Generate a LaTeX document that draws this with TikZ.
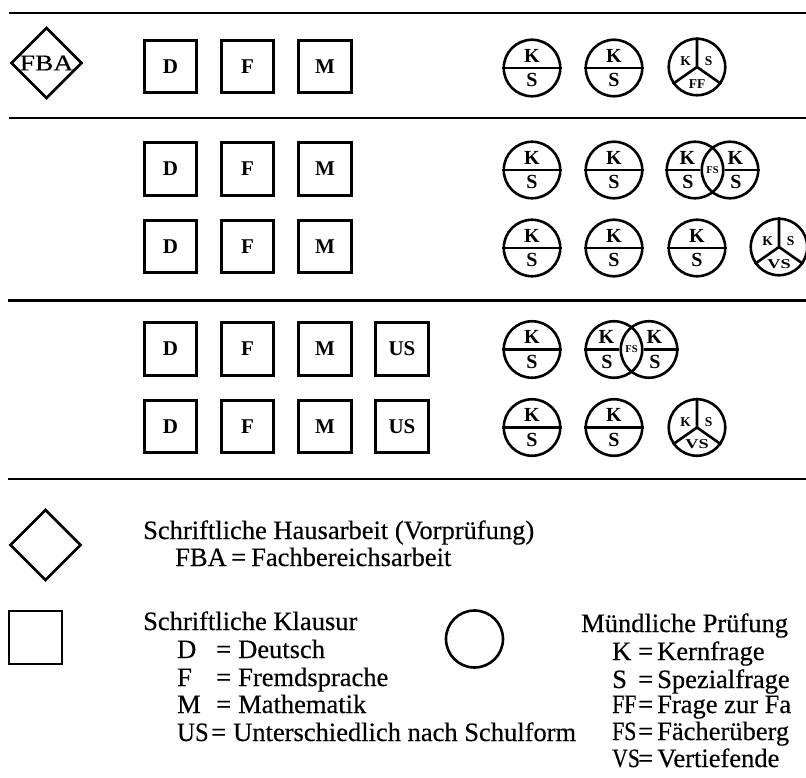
\documentclass[tikz,border=0pt]{standalone}
\usepackage{fontspec}
\setmainfont{Liberation Serif}
\newfontfamily\heavyserif[FakeBold=0.4]{Liberation Serif}
\usetikzlibrary{calc,shapes.geometric}
\begin{document}
\begin{tikzpicture}[x=1pt,y=-1pt,
  rule/.style={line width=2.3pt},
  box/.style={draw, line width=2.6pt, minimum size=52.5pt, inner sep=0pt, font=\fontsize{21}{21}\selectfont\bfseries},
  ring/.style={draw, circle, line width=2.6pt, minimum size=56.5pt, inner sep=0pt},
  dia/.style={draw, diamond, line width=2.6pt, minimum width=71pt, minimum height=71pt, inner sep=0pt},
  cut/.style={line width=2.6pt},
  big/.style={inner sep=0pt, font=\fontsize{20}{20}\selectfont\bfseries},
  small/.style={inner sep=0pt, font=\fontsize{13.5}{13.5}\selectfont\bfseries},
  tiny/.style={inner sep=0pt, font=\fontsize{10.5}{10.5}\selectfont\bfseries},
  fbafont/.style={inner sep=0pt, font=\fontsize{22.5}{22.5}\heavyserif},
  legend/.style={inner sep=0pt, anchor=base west, font=\fontsize{26.5}{26.5}\heavyserif}
]
\newcommand{\ksring}[2]{%
  \node[ring] (#1) at (#2) {};
  \draw[cut] (#1.west) -- (#1.east);
  \node[big] (#1k) at ($(#1)+(0,-12.5)$) {K};
  \node[big] (#1s) at ($(#1)+(0,12)$) {S};
}
\newcommand{\triring}[3]{%
  \node[ring] (#1) at (#2) {};
  \draw[cut] (#1.north) -- (#1.center) -- (#1.-145);
  \draw[cut] (#1.center) -- (#1.-35);
  \node[small] (#1k) at ($(#1)+(-11.5,-5.5)$) {K};
  \node[small] (#1s) at ($(#1)+(11.5,-5.5)$) {S};
  \node[small] (#1b) at ($(#1)+(0,17)$) {#3};
}
\newcommand{\vennring}[3]{%
  \node[ring] (#1) at (#3) {};
  \node[ring] (#2) at ($(#1)+(35,0)$) {};
  \draw[cut] (#1.west) -- (#2.west);
  \draw[cut] (#1.east) -- (#2.east);
  \node[big] (#1k) at ($(#1)+(-7.5,-12.5)$) {K};
  \node[big] (#1s) at ($(#1)+(-7,12)$) {S};
  \node[big] (#2k) at ($(#2)+(5.5,-12.5)$) {K};
  \node[big] (#2s) at ($(#2)+(6,12)$) {S};
  \node[tiny] (#1fs) at ($(#1)!0.5!(#2)$) {FS};
}
\newcommand{\narrowkey}[2][0.82]{\scalebox{#1}[1]{#2}}
\useasboundingbox (0,0) rectangle (806,778);
\clip (0,0) rectangle (806,778);

% rules
\coordinate (r1a) at (9,13);    \coordinate (r1b) at (806,13);
\coordinate (r2a) at (9,118);   \coordinate (r2b) at (806,118);
\coordinate (r3a) at (8,300.5); \coordinate (r3b) at (806,300.5);
\coordinate (r4a) at (8,479);   \coordinate (r4b) at (806,479);
\draw[rule] (r1a) -- (r1b);
\draw[rule] (r2a) -- (r2b);
\draw[rule] (r3a) -- (r3b);
\draw[rule] (r4a) -- (r4b);

% row 1
\node[dia] (fba) at (46.5,63) {};
\node[fbafont] (fbat) at (fba) {\scalebox{1.22}[1]{FBA}};
\node[box] (d1) at (170.5,66.5) {D};
\node[box] (f1) at (247.5,66.5) {F};
\node[box] (m1) at (325,66.5) {M};
\ksring{a1}{532,68}
\ksring{b1}{614,68}
\triring{t1}{697,67}{FF}

% row 2
\node[box] (d2) at (170.5,169) {D};
\node[box] (f2) at (247.5,169) {F};
\node[box] (m2) at (325,169) {M};
\ksring{a2}{532,170}
\ksring{b2}{614,170}
\vennring{vl2}{vr2}{695,170}

% row 3
\node[box] (d3) at (170.5,246.5) {D};
\node[box] (f3) at (247.5,246.5) {F};
\node[box] (m3) at (325,246.5) {M};
\ksring{a3}{532,248}
\ksring{b3}{614,248}
\ksring{c3}{697,248}
\triring{t3}{779,247}{\scalebox{1.35}[1]{VS}}

% row 4
\node[box] (d4) at (170.5,349) {D};
\node[box] (f4) at (247.5,349) {F};
\node[box] (m4) at (325,349) {M};
\node[box] (u4) at (402,349) {US};
\ksring{a4}{532,349.5}
\vennring{vl4}{vr4}{614,349.5}

% row 5
\node[box] (d5) at (170.5,426.5) {D};
\node[box] (f5) at (247.5,426.5) {F};
\node[box] (m5) at (325,426.5) {M};
\node[box] (u5) at (402,426.5) {US};
\ksring{a5}{532,427.5}
\ksring{b5}{614,427.5}
\triring{t5}{697,427.5}{\scalebox{1.35}[1]{VS}}

% legend
\node[dia] (ldia) at (45.5,545) {};
\node[legend] (lh1) at (143,539) {Schriftliche Hausarbeit (Vorprüfung)};
\node[legend] (lh2) at (175,566) {FBA};
\node[legend] (lh2e) at (231,566) {=};
\node[legend] (lh2t) at (251,566) {Fachbereichsarbeit};

\node[draw, line width=2.6pt, minimum size=53pt, inner sep=0pt] (lbox) at (35.5,637.5) {};
\node[legend] (lk0) at (143,630) {Schriftliche Klausur};
\node[legend] (lk1) at (177,658) {D};
\node[legend] (lk1e) at (216,658) {=};
\node[legend] (lk1t) at (238,658) {Deutsch};
\node[legend] (lk2) at (177,686) {F};
\node[legend] (lk2e) at (216,686) {=};
\node[legend] (lk2t) at (238,686) {Fremdsprache};
\node[legend] (lk3) at (177,713) {M};
\node[legend] (lk3e) at (216,713) {=};
\node[legend] (lk3t) at (238,713) {Mathematik};
\node[legend] (lk4) at (177,741) {\narrowkey[0.93]{US}};
\node[legend] (lk4e) at (211,741) {=};
\node[legend] (lk4t) at (233,741) {Unterschiedlich nach Schulform};

\node[ring, minimum size=57pt] (lring) at (474.5,639) {};
\node[legend] (lm0) at (581,632) {Mündliche Prüfung};
\node[legend] (lm1) at (612,660) {K};
\node[legend] (lm1e) at (638,660) {=};
\node[legend] (lm1t) at (657,660) {Kernfrage};
\node[legend] (lm2) at (612,688) {S};
\node[legend] (lm2e) at (638,688) {=};
\node[legend] (lm2t) at (657,688) {Spezialfrage};
\node[legend] (lm3) at (612,713) {\narrowkey{FF}};
\node[legend] (lm3e) at (638,713) {=};
\node[legend] (lm3t) at (657,713) {Frage zur Fa};
\node[legend] (lm4) at (612,740) {\narrowkey{FS}};
\node[legend] (lm4e) at (638,740) {=};
\node[legend] (lm4t) at (657,740) {Fächerüberg};
\node[legend] (lm5) at (612,767) {\narrowkey{VS}};
\node[legend] (lm5e) at (638,767) {=};
\node[legend] (lm5t) at (657,767) {Vertiefende};
\end{tikzpicture}
\end{document}
